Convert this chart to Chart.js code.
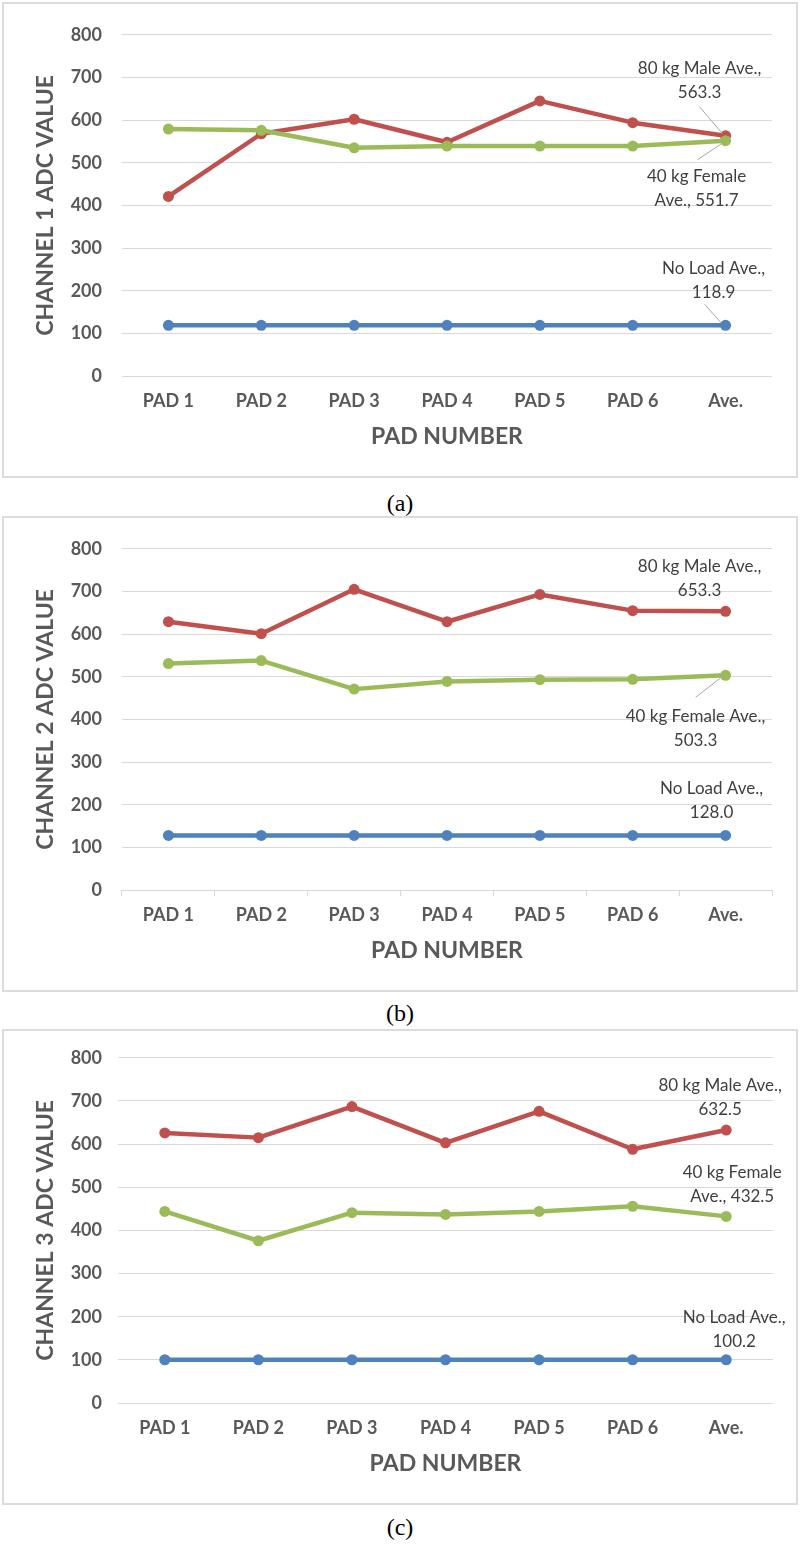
<!DOCTYPE html>
<html>
<head>
<meta charset="utf-8">
<script src="https://cdn.jsdelivr.net/npm/chart.js@4.4.1/dist/chart.umd.min.js"></script>
<style>
  body { margin: 0; background: #fff; width: 800px; height: 1544px; position: relative; overflow: hidden; }
  .panel { position: absolute; left: 2px; width: 796px; height: 476px; border: 2px solid #dcdcdc; box-sizing: border-box; }
  .panel canvas { position: absolute; left: 0; top: 0; }
  .caption { position: absolute; left: 0; width: 800px; text-align: center; font-family: "Liberation Serif", serif; font-size: 24px; color: #000; line-height: 28px; }
</style>
</head>
<body>
<div class="panel" id="p1"><canvas id="c1" width="792" height="472"></canvas></div>
<div class="caption" style="top:489px">(a)</div>
<div class="panel" id="p2"><canvas id="c2" width="792" height="472"></canvas></div>
<div class="caption" style="top:999px">(b)</div>
<div class="panel" id="p3"><canvas id="c3" width="792" height="472"></canvas></div>
<div class="caption" style="top:1513px">(c)</div>
<script>
// categories and series values (last point = average)
const categories = ["PAD 1", "PAD 2", "PAD 3", "PAD 4", "PAD 5", "PAD 6", "Ave."];
const seriesNames = ["No Load", "40 kg Female", "80 kg Male"];
const axisTitles = ["CHANNEL 1 ADC VALUE", "CHANNEL 2 ADC VALUE", "CHANNEL 3 ADC VALUE"];
const xTitle = "PAD NUMBER";
const yMin = 0, yMax = 800, yStep = 100;

const ch1NoLoad = [118.9, 118.9, 118.9, 118.9, 118.9, 118.9, 118.9];
const ch1Female = [579, 576, 535, 539, 539, 539, 551.7];
const ch1Male   = [421, 568, 602, 548, 645, 594, 563.3];

const ch2NoLoad = [128.0, 128.0, 128.0, 128.0, 128.0, 128.0, 128.0];
const ch2Female = [531, 538, 471, 489, 493, 494, 503.3];
const ch2Male   = [629, 601, 705, 629, 693, 655, 653.3];

const ch3NoLoad = [100.2, 100.2, 100.2, 100.2, 100.2, 100.2, 100.2];
const ch3Female = [444, 376, 441, 437, 444, 456, 432.5];
const ch3Male   = [626, 615, 687, 603, 676, 588, 632.5];

const colors = { noLoad: "#4f81bd", female: "#9bbb59", male: "#c0504d" };

// label placement relative to the Ave. point: offset of line 1, words on line 1, leader line
const panels = [
  {
    canvas: "c1", div: "p1", top: 2, plotLeft: 122, plotRight: 772, tickMarks: false,
    series: [ch1NoLoad, ch1Female, ch1Male], title: axisTitles[0],
    labels: {
      female: { dx: -29, dy: 36, split: 3, leader: [-28, 19, -4, 3] },
      male:   { dx: -26, dy: -67, split: 4, leader: [-26, -29, -3, -2] },
      noLoad: { dx: -12, dy: -57, split: 3, leader: [-21, -21, -4, -2] }
    }
  },
  {
    canvas: "c2", div: "p2", top: 516, plotLeft: 122, plotRight: 772, tickMarks: true,
    series: [ch2NoLoad, ch2Female, ch2Male], title: axisTitles[1],
    labels: {
      female: { dx: -30, dy: 41, split: 4, leader: [-30, 22, -3, 1] },
      male:   { dx: -26, dy: -45, split: 4, leader: null },
      noLoad: { dx: -14, dy: -47, split: 3, leader: null }
    }
  },
  {
    canvas: "c3", div: "p3", top: 1029, plotLeft: 118, plotRight: 773, tickMarks: false,
    series: [ch3NoLoad, ch3Female, ch3Male], title: axisTitles[2],
    labels: {
      female: { dx: 6, dy: -44, split: 3, leader: null },
      male:   { dx: -6, dy: -45, split: 4, leader: null },
      noLoad: { dx: 8, dy: -42, split: 3, leader: null }
    }
  }
];

function makeLabelPlugin(cfg) {
  return {
    id: "aveLabels",
    afterDatasetsDraw(chart) {
      const ctx = chart.ctx;
      ctx.save();
      chart.data.datasets.forEach((ds, i) => {
        const lab = cfg.labels[ds.key];
        const meta = chart.getDatasetMeta(i);
        const pt = meta.data[meta.data.length - 1];
        const val = ds.data[ds.data.length - 1];
        const words = (ds.label + " Ave., " + val.toFixed(1)).split(" ");
        const lines = [words.slice(0, lab.split).join(" "), words.slice(lab.split).join(" ")];
        ctx.font = "17px Lato";
        ctx.fillStyle = "#404040";
        ctx.textAlign = "center";
        ctx.textBaseline = "middle";
        lines.forEach((t, k) => ctx.fillText(t, pt.x + lab.dx, pt.y + lab.dy + k * 24));
        if (lab.leader) {
          const l = lab.leader;
          ctx.strokeStyle = "#a6a6a6";
          ctx.lineWidth = 1;
          ctx.beginPath();
          ctx.moveTo(pt.x + l[0], pt.y + l[1]);
          ctx.lineTo(pt.x + l[2], pt.y + l[3]);
          ctx.stroke();
        }
      });
      ctx.restore();
    }
  };
}

function lineSet(label, key, data, color) {
  return {
    label: label, key: key, data: data,
    borderColor: color, backgroundColor: color,
    pointBackgroundColor: color, pointBorderColor: color,
    borderWidth: 4.5, pointRadius: 5.5, pointBorderWidth: 0,
    borderJoinStyle: "round", borderCapStyle: "round",
    tension: 0, fill: false
  };
}

panels.forEach(cfg => {
  const div = document.getElementById(cfg.div);
  div.style.top = cfg.top + "px";
  const left = cfg.plotLeft - 4;
  const right = 792 - (cfg.plotRight - 4);

  new Chart(document.getElementById(cfg.canvas).getContext("2d"), {
    type: "line",
    data: {
      labels: categories,
      datasets: [
        lineSet(seriesNames[1], "female", cfg.series[1], colors.female),
        lineSet(seriesNames[2], "male", cfg.series[2], colors.male),
        lineSet(seriesNames[0], "noLoad", cfg.series[0], colors.noLoad)
      ]
    },
    options: {
      responsive: false,
      animation: false,
      devicePixelRatio: 1,
      layout: { padding: { top: 21, right: right, bottom: 0, left: 0 } },
      plugins: { legend: { display: false }, tooltip: { enabled: false } },
      scales: {
        x: {
          offset: true,
          afterFit: s => { s.height = 100; },
          grid: {
            offset: true, drawOnChartArea: false, drawTicks: true, tickLength: 6,
            color: cfg.tickMarks ? "#d9d9d9" : "rgba(0,0,0,0)"
          },
          border: { display: false },
          ticks: { padding: 8, color: "#595959", font: { family: "Lato", size: 18, weight: "bold" }, maxRotation: 0 },
          title: {
            display: true, text: xTitle, color: "#595959",
            font: { family: "Lato", size: 23, weight: "bold" },
            padding: { top: 0, bottom: 26 }
          }
        },
        y: {
          min: yMin, max: yMax,
          afterFit: s => { s.width = left; },
          grid: { color: "#d9d9d9", lineWidth: 1, drawTicks: false },
          border: { display: false },
          ticks: { stepSize: yStep, padding: left - 98, color: "#595959", font: { family: "Lato", size: 18, weight: "bold" } },
          title: {
            display: true, text: cfg.title, color: "#595959",
            font: { family: "Lato", size: 23, weight: "bold" },
            padding: { top: 28, bottom: 0 }
          }
        }
      }
    },
    plugins: [makeLabelPlugin(cfg)]
  });
});
</script>
</body>
</html>
